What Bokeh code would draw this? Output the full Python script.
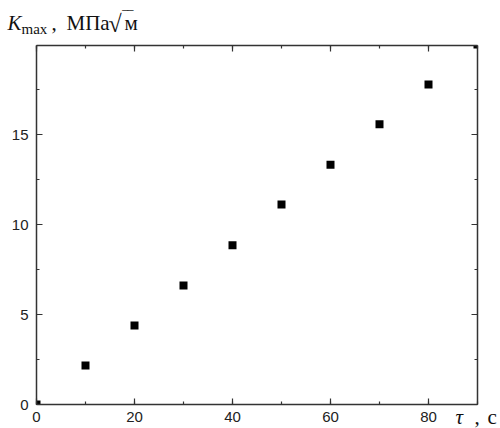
import numpy as np
from bokeh.plotting import figure
from bokeh.models import LinearAxis, Label, Range1d, SingleIntervalTicker
from bokeh.embed import file_html
from bokeh.resources import INLINE

# data
tau = [0, 10, 20, 30, 40, 50, 60, 70, 80, 90]
kmax = [0.0, 2.17, 4.39, 6.61, 8.85, 11.11, 13.32, 15.57, 17.78, 20.0]

X0, X1 = 0, 90
Y0, Y1 = 0, 19.95

# layout (page pixels of the plot box)
W, H = 500, 428
PX_X0, PX_X1 = 36, 477
PX_Y0, PX_Y1 = 404, 45
sx = (PX_X1 - PX_X0) / (X1 - X0)
sy = (PX_Y0 - PX_Y1) / (Y1 - Y0)
xs = X0 - PX_X0 / sx
xe = xs + W / sx
ys = Y0 - (H - PX_Y0) / sy
ye = ys + H / sy

p = figure(width=W, height=H, output_backend="svg", toolbar_location=None,
           x_range=Range1d(xs, xe), y_range=Range1d(ys, ye),
           min_border=0, x_axis_location=None, y_axis_location=None)
p.grid.visible = False
p.outline_line_color = None
p.background_fill_color = "white"
p.border_fill_color = "white"

# square markers (8 px), clipped to the plot box
HALF = 4
xa = np.array(tau, dtype=float)
ya = np.array(kmax, dtype=float)
p.quad(left=np.clip(xa - HALF / sx, X0, X1), right=np.clip(xa + HALF / sx, X0, X1),
       bottom=np.clip(ya - HALF / sy, Y0, Y1), top=np.clip(ya + HALF / sy, Y0, Y1),
       fill_color="black", line_color=None)

AX = "#333333"
def style(ax, labels=True):
    ax.axis_line_color = AX
    ax.axis_line_width = 1.5
    ax.major_tick_line_color = AX
    ax.minor_tick_line_color = AX
    ax.major_tick_line_width = 1.2
    ax.minor_tick_line_width = 1.2
    ax.major_tick_in = 6
    ax.major_tick_out = 0
    ax.minor_tick_in = 3
    ax.minor_tick_out = 0
    ax.major_label_text_font = "Liberation Sans"
    ax.major_label_text_font_size = "15px"
    ax.major_label_text_color = "#222222" if labels else None

xb = LinearAxis(ticker=SingleIntervalTicker(interval=20, num_minor_ticks=2),
                fixed_location=Y0, bounds=(X0, X1))
xt = LinearAxis(ticker=SingleIntervalTicker(interval=20, num_minor_ticks=2),
                fixed_location=Y1, bounds=(X0, X1))
yl = LinearAxis(ticker=SingleIntervalTicker(interval=5, num_minor_ticks=2),
                fixed_location=X0, bounds=(Y0, Y1))
yr = LinearAxis(ticker=SingleIntervalTicker(interval=5, num_minor_ticks=2),
                fixed_location=X1, bounds=(Y0, Y1))
style(xb); style(yl)
style(xt, False); style(yr, False)
xb.major_label_standoff = 7
yl.major_label_standoff = 8
p.add_layout(xb, "below")
p.add_layout(xt, "above")
p.add_layout(yl, "left")
p.add_layout(yr, "right")

# page pixel -> data helpers for the text labels
SHIFT = 7  # Label baseline correction
def dx(px):
    return xs + px / sx
def dy(py):
    return ys + (H - (py - SHIFT)) / sy

def lab(text, px, py, size, font="Liberation Serif", style="normal"):
    p.add_layout(Label(x=dx(px), y=dy(py), text=text, text_font=font,
                       text_font_size=size, text_font_style=style,
                       text_baseline="alphabetic", text_align="left",
                       text_color="#111111"))

lab("K", 7, 29, "21px", style="italic")
lab("max", 21, 35, "15px")
lab(",", 51, 29, "21px")
lab("МПа", 66, 29, "21px")
lab("√", 108, 30, "24px")
lab("м", 124, 29, "21px")
lab("‾‾", 122, 25, "16px")

lab("τ", 455, 423, "21px", style="italic")
lab(",", 474, 423, "21px")
lab("с", 487, 423, "21px")

html = file_html(p, INLINE)
open("out.html", "w").write(html)
